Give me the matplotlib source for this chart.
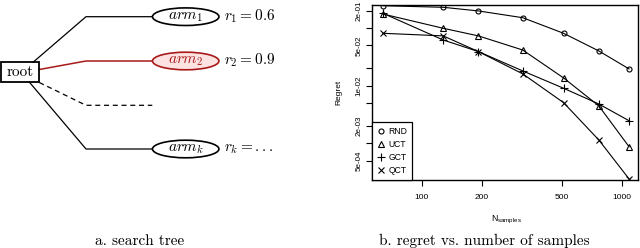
import matplotlib
matplotlib.use("Agg")
import matplotlib.pyplot as plt
from matplotlib.patches import Ellipse, Rectangle
from matplotlib.lines import Line2D
import numpy as np

# ---------------- data ----------------
samples = [64, 128, 192, 320, 512, 768, 1088]
rnd = [0.244, 0.229, 0.198, 0.151, 0.081, 0.040, 0.0195]
uct = [0.175, 0.099, 0.073, 0.0415, 0.0136, 0.00445, 0.00087]
gct = [0.180, 0.062, 0.039, 0.018, 0.0090, 0.0048, 0.00246]
qct = [0.081, 0.073, 0.039, 0.016, 0.00506, 0.00114, 0.00024]
series_names = ["RND", "UCT", "GCT", "QCT"]

y_ticks = [2e-1, 1e-1, 5e-2, 2e-2, 1e-2, 5e-3, 2e-3, 1e-3, 5e-4]
y_ticklabels = ["2e-01", "", "5e-02", "", "1e-02", "", "2e-03", "", "5e-04"]
x_ticks = [100, 200, 500, 1000]
x_ticklabels = ["100", "200", "500", "1000"]

arm_labels = [r"$arm_1$", r"$arm_2$", r"$arm_k$"]
reward_labels = [r"$r_1 = 0.6$", r"$r_2 = 0.9$", r"$r_k = ...$"]

W, H = 640, 248
fig = plt.figure(figsize=(W / 100, H / 100), dpi=100)

def fx(x):
    return x / W

def fy(y):
    return 1 - y / H

# ---------------- left panel: search tree ----------------
ax0 = fig.add_axes([0, 0, 0.5, 1])
ax0.set_xlim(0, 320)
ax0.set_ylim(248, 0)
ax0.axis("off")

red = "#a81a1a"
pink = "#fde2e2"
lw_tree = 0.9

# root box
ax0.add_patch(Rectangle((0.8, 62.3), 38.5, 19.4, fill=False, ec="black", lw=1.3, zorder=3))
ax0.text(19.8, 72.5, "root", family="cmr10", fontsize=11, ha="center", va="center")

arm_y = [16.7, 61.0, 149.0]
dash_y = 105.3
# edges
ax0.plot([33, 86, 152.3], [62.3, arm_y[0], arm_y[0]], color="black", lw=lw_tree)
ax0.plot([39.3, 86, 152.3], [69.5, arm_y[1], arm_y[1]], color=red, lw=1.1)
ax0.plot([39.3, 86, 152.3], [82.5, dash_y, dash_y], color="black", lw=lw_tree,
         dashes=(4, 3))
ax0.plot([29, 86, 152.3], [81.7, arm_y[2], arm_y[2]], color="black", lw=lw_tree)

for i, (lab, rl, y) in enumerate(zip(arm_labels, reward_labels, arm_y)):
    if i == 1:
        ec, fc, tc = red, pink, red
    else:
        ec, fc, tc = "black", "white", "black"
    ax0.add_patch(Ellipse((185.7, y), 66.5, 17.6, ec=ec, fc=fc, lw=1.2, zorder=3))
    ax0.text(185.7, y - 0.5, lab, math_fontfamily="cm", fontsize=11, color=tc,
             ha="center", va="center", zorder=4)
    ax0.text(224, y - 0.5, rl, math_fontfamily="cm", fontsize=11, color="black",
             ha="left", va="center")

ax0.text(139.7, 241, "a. search tree", family="cmr10", fontsize=11,
         ha="center", va="center")

# ---------------- right panel: regret plot ----------------
ax_l, ax_r, ax_t, ax_b = 372, 638, 5, 180
ax = fig.add_axes([fx(ax_l), fy(ax_b), (ax_r - ax_l) / W, (ax_b - ax_t) / H])
ax.set_xscale("log")
ax.set_yscale("log")
ax.set_xlim(56.4, 1206)
ax.set_ylim(2.30e-4, 0.251)

markers = ["o", "^", "+", "x"]
msizes = [3.6, 4.2, 5.5, 4.2]
for vals, m, ms in zip([rnd, uct, gct, qct], markers, msizes):
    ax.plot(samples, vals, color="black", lw=0.8, marker=m, ms=ms,
            mfc="none", mec="black", mew=0.8, clip_on=True)

sans = "Liberation Sans"
ax.set_xticks(x_ticks)
ax.set_xticklabels(x_ticklabels, family=sans, fontsize=6)
ax.xaxis.set_minor_locator(matplotlib.ticker.NullLocator())
ax.set_yticks(y_ticks)
ax.set_yticklabels(y_ticklabels, family=sans, fontsize=5.8, rotation=90,
                   va="center")
ax.yaxis.set_minor_locator(matplotlib.ticker.NullLocator())
ax.tick_params(axis="both", direction="out", length=4.5, width=0.8, color="black")
ax.tick_params(axis="x", pad=5.5)
ax.tick_params(axis="y", pad=2.5)
for s in ax.spines.values():
    s.set_linewidth(1.0)

ax.set_ylabel("Regret", family=sans, fontsize=6, labelpad=9)
fig.text(fx(506.7), fy(220), r"$\mathregular{N_{samples}}$", family=sans,
         fontsize=6.3, ha="center", va="center")

handles = [Line2D([], [], ls="none", marker=m, ms=ms, mfc="none", mec="black",
                  mew=0.8, color="black") for m, ms in zip(markers, msizes)]
leg = ax.legend(handles, series_names, loc="lower left", borderaxespad=0,
                fancybox=False, framealpha=1, edgecolor="black",
                prop={"family": sans, "size": 6.2}, handlelength=0.8,
                handletextpad=0.5, labelspacing=0.45, borderpad=0.6)
leg.get_frame().set_linewidth(0.9)

fig.text(fx(484.5), fy(241), "b. regret vs. number of samples", family="cmr10",
         fontsize=11, ha="center", va="center")

fig.savefig("out.png", dpi=100)
